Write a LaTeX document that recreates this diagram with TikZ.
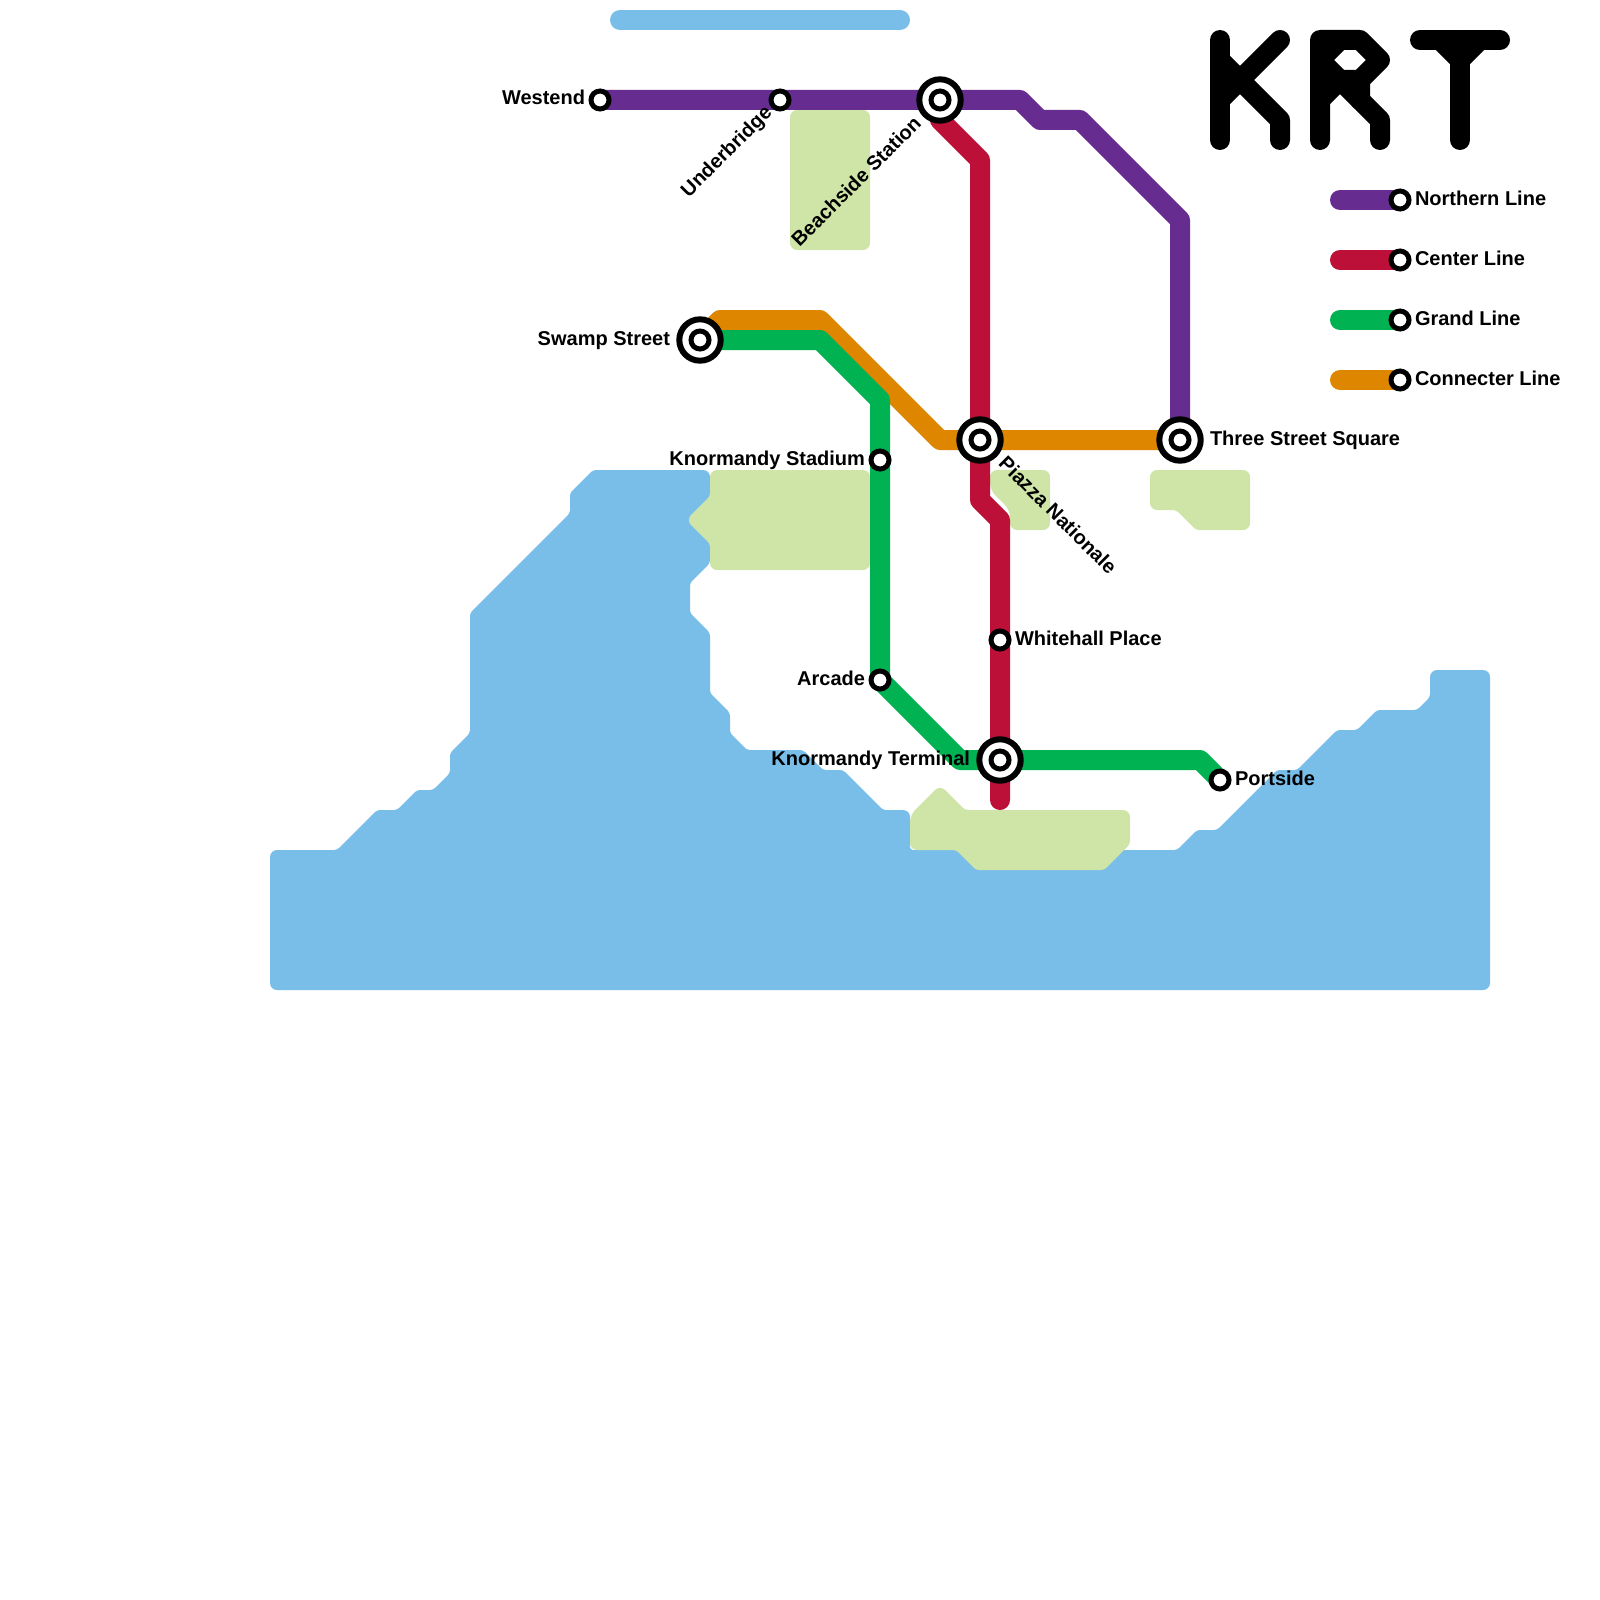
\documentclass[tikz,border=0pt]{standalone}
\usepackage{xcolor}
\usepackage{fontspec}
\setmainfont{Liberation Sans}
\usetikzlibrary{positioning, backgrounds}
\definecolor{water}{HTML}{79BDE9}
\definecolor{land}{HTML}{CFE4A7}
\definecolor{northern}{HTML}{662C90}
\definecolor{center}{HTML}{BD1038}
\definecolor{grand}{HTML}{00B251}
\definecolor{connecter}{HTML}{DF8600}

\begin{document}
\begin{tikzpicture}[x=20pt,y=-20pt,font=\fontsize{20pt}{24pt}\selectfont\bfseries,
  stn/.style={circle,draw=black,fill=white,line width=5pt,minimum size=18pt,inner sep=0pt},
  hub/.style={circle,draw=black,fill=white,line width=6pt,minimum size=41.4pt,inner sep=0pt},
  stnlabel/.style={inner sep=0pt,outer sep=0pt,text height=15pt,text depth=5pt},
  metro/.style={line width=20pt,line cap=round,line join=round},
  logo/.style={metro,draw=black},
  sq/.style={rounded corners=7pt},
  dg/.style={rounded corners=3pt}]
  \useasboundingbox (0,0) rectangle (80,80);
  % stations
  \node[stn] (westend) at (30,5) {};
  \node[stn] (underbridge) at (39,5) {};
  \node[hub] (beachside) at (47,5) {};
  \node[stn] (beachsidein) at (beachside) {};
  \node[hub] (swamp) at (35,17) {};
  \node[stn] (swampin) at (swamp) {};
  \node[hub] (piazza) at (49,22) {};
  \node[stn] (piazzain) at (piazza) {};
  \node[hub] (three) at (59,22) {};
  \node[stn] (threein) at (three) {};
  \node[stn] (stadium) at (44,23) {};
  \node[stn] (whitehall) at (50,32) {};
  \node[stn] (arcade) at (44,34) {};
  \node[hub] (terminal) at (50,38) {};
  \node[stn] (terminalin) at (terminal) {};
  \node[stn] (portside) at (61,39) {};
  \coordinate (centerend) at (50,40);
  % legend
  \coordinate (northernstart) at (67,10);
  \coordinate (centerstart) at (67,13);
  \coordinate (grandstart) at (67,16);
  \coordinate (connecterstart) at (67,19);
  \node[stn] (northernkey) at (70,10) {};
  \node[stn] (centerkey) at (70,13) {};
  \node[stn] (grandkey) at (70,16) {};
  \node[stn] (connecterkey) at (70,19) {};
  \node[stnlabel, right=3.5pt of northernkey] (northernlabel) {Northern Line};
  \node[stnlabel, right=3.5pt of centerkey] (centerlabel) {Center Line};
  \node[stnlabel, right=3.5pt of grandkey] (grandlabel) {Grand Line};
  \node[stnlabel, right=3.5pt of connecterkey] (connecterlabel) {Connecter Line};
  % station names
  \node[stnlabel, left=3.5pt of westend] (westendlabel) {Westend};
  \node[stnlabel, rotate=45, anchor=east] (underbridgelabel) at ([shift={(-10.6pt,-10.6pt)}]underbridge.center) {Underbridge};
  \node[stnlabel, rotate=45, anchor=east] (beachsidelabel) at ([shift={(-21.2pt,-21.2pt)}]beachside.center) {Beachside Station};
  \node[stnlabel, left=6.3pt of swamp] (swamplabel) {Swamp Street};
  \node[stnlabel, rotate=-45, anchor=west] (piazzalabel) at ([shift={(21.2pt,-21.2pt)}]piazza.center) {Piazza Nationale};
  \node[stnlabel, right=6.3pt of three] (threelabel) {Three Street Square};
  \node[stnlabel, left=3.5pt of stadium] (stadiumlabel) {Knormandy Stadium};
  \node[stnlabel, right=3.5pt of whitehall] (whitehalllabel) {Whitehall Place};
  \node[stnlabel, left=3.5pt of arcade] (arcadelabel) {Arcade};
  \node[stnlabel, left=6.3pt of terminal] (terminallabel) {Knormandy Terminal};
  \node[stnlabel, right=3.5pt of portside] (portsidelabel) {Portside};
  \begin{scope}[on background layer]
    % water and land
    \fill[water] (13.5,49.5) [sq] -- (13.5,42.5) [dg] -- (16.85,42.5) -- (18.85,40.5) -- (19.85,40.5)
      -- (20.85,39.5) -- (21.65,39.5) -- (22.5,38.65) -- (22.5,37.65) -- (23.5,36.65)
      -- (23.5,30.65) -- (28.5,25.65) -- (28.5,24.65) -- (29.65,23.5) [sq] -- (35.5,23.5) [dg]
      -- (35.5,28.15) -- (34.5,29.15) -- (34.5,30.65) -- (35.5,31.65) -- (35.5,34.65)
      -- (36.5,35.65) -- (36.5,36.65) -- (37.35,37.5) -- (40.15,37.5) -- (41.15,38.5)
      -- (42.15,38.5) -- (44.15,40.5) [sq] -- (45.5,40.5) [dg] -- (45.5,42.5) -- (58.85,42.5)
      -- (59.85,41.5) -- (60.85,41.5) -- (63.85,38.5) -- (64.85,38.5) -- (66.85,36.5)
      -- (67.85,36.5) -- (68.85,35.5) -- (70.85,35.5) -- (71.5,34.85) [sq] -- (71.5,33.5)
      -- (74.5,33.5) -- (74.5,49.5) -- cycle;
    \draw[metro,water] (31,1) -- (45,1);
    \fill[land,sq] (39.5,5.5) rectangle (43.5,12.5);
    \fill[land,sq] (35.5,23.5) -- (43.5,23.5) -- (43.5,28.5) -- (35.5,28.5) [dg] -- (35.5,27.2)
      [sq] -- (34.3,26) [dg] -- (35.5,24.8) [sq] -- cycle;
    \fill[land,sq] (49.5,23.5) -- (52.5,23.5) -- (52.5,26.5) -- (50.5,26.5) -- (50.5,25.5)
      -- (49.5,24.5) -- cycle;
    \fill[land,sq] (57.5,23.5) -- (62.5,23.5) -- (62.5,26.5) [dg] -- (59.8,26.5) -- (58.8,25.5)
      [sq] -- (57.5,25.5) -- cycle;
    \fill[land,dg] (45.5,40.75) [sq] -- (47,39.25) [dg] -- (48.25,40.5) [sq] -- (56.5,40.5) [dg] -- (56.5,42.2)
      -- (55.2,43.5) -- (48.8,43.5) -- (47.8,42.5) [sq] -- (45.5,42.5) -- cycle;
    % lines
    \draw[metro,northern] (westend.center) -- (underbridge.center) -- (beachside.center)
      -- (51,5) -- (52,6) -- (54,6) -- (59,11) -- (three.center);
    \draw[metro,center] (beachside.center) -- (47,6) -- (49,8) -- (piazza.center) -- (49,25)
      -- (50,26) -- (whitehall.center) -- (terminal.center) -- (centerend);
    \draw[metro,connecter] (swamp.center) -- (36,16) -- (41,16) -- (47,22) -- (piazza.center)
      -- (three.center);
    \draw[metro,grand] (swamp.center) -- (41,17) -- (44,20) -- (stadium.center) -- (arcade.center)
      -- (48,38) -- (terminal.center) -- (60,38) -- (portside.center);
    \draw[metro,northern] (northernstart) -- (northernkey.center);
    \draw[metro,center] (centerstart) -- (centerkey.center);
    \draw[metro,grand] (grandstart) -- (grandkey.center);
    \draw[metro,connecter] (connecterstart) -- (connecterkey.center);
    % KRT
    \draw[logo] (61,2) -- (61,7);
    \draw[logo] (64,2) -- (61,5);
    \draw[logo] (61,3) -- (64,6) -- (64,7);
    \draw[logo] (66,7) -- (66,2) -- (68,2) -- (69,3) -- (68,4) -- (68,5);
    \draw[logo] (66,3) -- (69,6) -- (69,7);
    \draw[logo] (66,3) -- (67,2);
    \draw[logo] (66,5) -- (67,4) -- (68,4);
    \draw[logo] (71,2) -- (75,2);
    \draw[logo] (73,7) -- (73,2);
    \draw[logo] (72,2) -- (73,3) -- (74,2);
  \end{scope}
\end{tikzpicture}
\end{document}
